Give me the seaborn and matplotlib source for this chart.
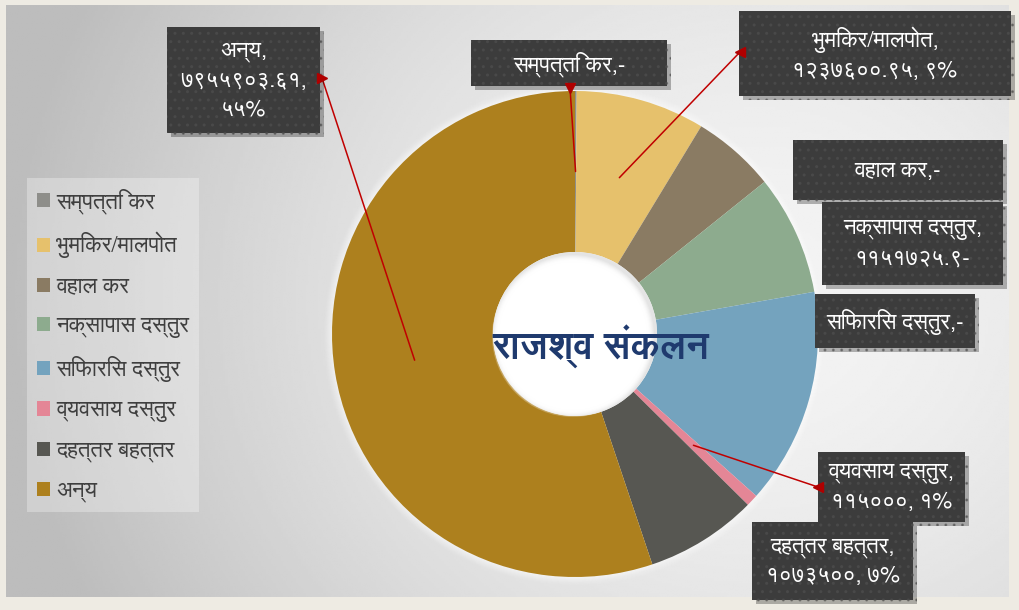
import numpy as np
import matplotlib
matplotlib.use("Agg")
import matplotlib.pyplot as plt
import seaborn as sns
from matplotlib import font_manager as fm
from matplotlib.patches import Rectangle, Circle, Shadow
from matplotlib.lines import Line2D

# ---------------- data ----------------
categories = ['सम्पत्ति कर', 'भुमिकर/मालपोत', 'वहाल कर', 'नक्सापास दस्तुर',
              'सिफारिस दस्तुर', 'व्यवसाय दस्तुर', 'दहत्तर बहत्तर', 'अन्य']
values = [16000, 1237600.95, 800000, 1151725.9, 2075000, 115000, 1073500, 7955903.61]
label_texts = ['सम्पत्ति कर,-',
               'भुमिकर/मालपोत,\n१२३७६००.९५, ९%',
               'वहाल कर,-',
               'नक्सापास दस्तुर,\n११५१७२५.९-',
               'सिफारिस दस्तुर,-',
               'व्यवसाय दस्तुर,\n११५०००, १%',
               'दहत्तर बहत्तर,\n१०७३५००, ७%',
               'अन्य,\n७९५५९०३.६१,\n५५%']
title_text = 'राजश्व संकलन'
colors = ['#8E8E8A', '#E6C16C', '#8A7B63', '#8DAB8E', '#74A3BE', '#E48696', '#575752', '#AD801E']

# ---------------- fonts ----------------
sns.set_theme(style="white")
installed = {f.name for f in fm.fontManager.ttflist}
preferred = [n for n in ['FreeSans', 'FreeSerif', 'Unifont'] if n in installed]
family = preferred[:1] + ['DejaVu Sans']
plt.rcParams['font.family'] = family
plt.rcParams['hatch.linewidth'] = 1.0

# ---------------- figure ----------------
W, H = 1019, 610
fig = plt.figure(figsize=(W / 100, H / 100), dpi=100)
fig.patch.set_facecolor('#EEEBE3')
ax = fig.add_axes([0, 0, 1, 1])

# background gradient panel
gx, gy = np.meshgrid(np.linspace(6, 1009, 400), np.linspace(5, 597, 240))
d = np.sqrt((gx - 760) ** 2 + ((gy - 300) * 1.1) ** 2)
val = np.clip(0.955 - 0.2 * (d / 720) ** 1.7, 0.74, 0.96)
ax.imshow(val, cmap='gray', vmin=0, vmax=1, extent=(6, 1009, 597, 5),
          aspect='auto', zorder=0, interpolation='bilinear')

cx, cy, R, r_hole = 575, 334, 243, 82

# soft halo around the ring
for k, a in zip(range(8, 0, -1), [0.06, 0.07, 0.08, 0.09, 0.10, 0.12, 0.14, 0.16]):
    ax.add_patch(Circle((cx, cy), R + k, facecolor='white', alpha=a, lw=0, zorder=1))

wedges, _ = ax.pie(values, colors=colors, startangle=-90, counterclock=True,
                   center=(cx, cy), radius=R,
                   wedgeprops=dict(width=R - r_hole, linewidth=0))
for w in wedges:
    w.set_zorder(2)

# hole with soft shading
ax.add_patch(Circle((cx, cy), r_hole, facecolor='#E4E4E4', lw=0, zorder=3))
for k, a in zip(range(0, 8), [0.25, 0.3, 0.35, 0.45, 0.6, 0.75, 0.9, 1.0]):
    ax.add_patch(Circle((cx - 2, cy + 2), r_hole - 1 - k, facecolor='white', alpha=a, lw=0, zorder=3))

ax.text(cx + 26, cy + 13, title_text, ha='center', va='center', fontsize=27,
        fontweight='bold', color='#1F3A6E', zorder=6)

# label boxes (x0, y0, x1, y1) in pixel layout
boxes = [(471, 40, 667, 86), (739, 11, 1011, 96), (793, 140, 1003, 200),
         (822, 202, 1003, 285), (815, 294, 975, 348), (818, 452, 965, 522),
         (752, 522, 913, 600), (167, 27, 320, 133)]
for i, (x0, y0, x1, y1) in enumerate(boxes):
    rect = Rectangle((x0, y0), x1 - x0, y1 - y0, facecolor='#3C3C3C',
                     edgecolor='#494949', hatch='..', lw=0, zorder=7)
    sh = Shadow(rect, 3, 3, alpha=0.3)
    sh.set_zorder(6.5)
    ax.add_patch(sh)
    ax.add_patch(rect)
    ax.text((x0 + x1) / 2, (y0 + y1) / 2 + 1, label_texts[i], ha='center', va='center',
            color='white', fontsize=16, linespacing=1.5, zorder=8)

# leader lines
leaders = {0: ((570, 88), 'v'), 1: ((740, 52), '<'), 5: ((818, 487), '<'), 7: ((322, 78), '>')}
r_mid = (R + r_hole) / 2
for i, ((bx, by), mk) in leaders.items():
    th = np.deg2rad((wedges[i].theta1 + wedges[i].theta2) / 2)
    px, py = cx + r_mid * np.cos(th), cy + r_mid * np.sin(th)
    ax.add_line(Line2D([bx, px], [by, py], color='#C00000', lw=1.1, zorder=5))
    ax.plot([bx], [by], marker=mk, color='#B00000', ms=7, zorder=9)

# legend
leg = ax.legend(wedges, categories, loc='upper left',
                bbox_to_anchor=(27 / W, 1 - 178 / H), bbox_transform=fig.transFigure,
                frameon=True, fontsize=16, handlelength=0.6, handleheight=0.6,
                handletextpad=0.25, labelspacing=0.82, borderpad=0.45, fancybox=False,
                labelcolor='#3F3F3F', borderaxespad=0)
leg.get_frame().set_facecolor('white')
leg.get_frame().set_alpha(0.3)
leg.get_frame().set_edgecolor('none')
leg.set_zorder(10)

ax.set_xlim(0, W)
ax.set_ylim(H, 0)
ax.axis('off')
fig.savefig('out.png', dpi=100)
